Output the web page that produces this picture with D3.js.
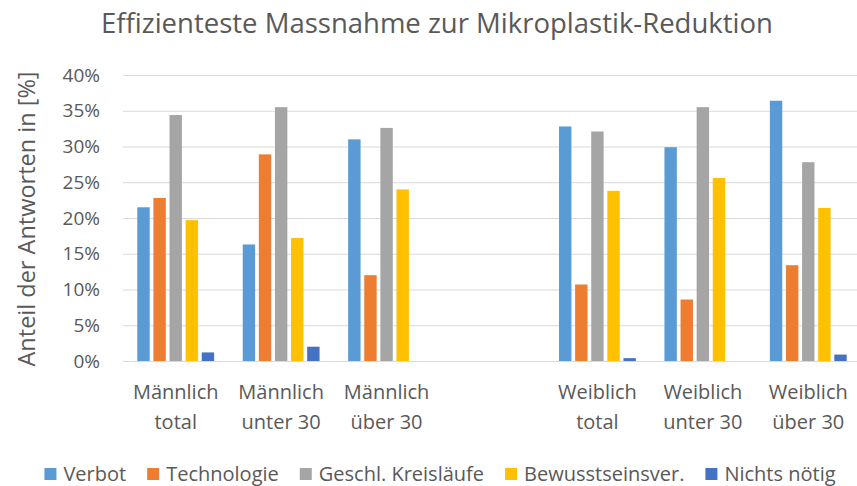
<!DOCTYPE html>
<html>
<head>
<meta charset="utf-8">
<script src="https://cdn.jsdelivr.net/npm/d3@7"></script>
<style>
body { margin: 0; background: #fff; }
text { font-family: "Open Sans", sans-serif; fill: #595959; }
</style>
</head>
<body>
<script>
var width = 857, height = 486;

// categories (one empty slot between the two groups)
var categories = ["Männlich total", "Männlich unter 30", "Männlich über 30", "", "Weiblich total", "Weiblich unter 30", "Weiblich über 30"];
var categoryLines = [["Männlich", "total"], ["Männlich", "unter 30"], ["Männlich", "über 30"], [], ["Weiblich", "total"], ["Weiblich", "unter 30"], ["Weiblich", "über 30"]];

var seriesNames = ["Verbot", "Technologie", "Geschl. Kreisläufe", "Bewusstseinsver.", "Nichts nötig"];
var seriesColors = ["#5B9BD5", "#ED7D31", "#A5A5A5", "#FFC000", "#4472C4"];

var verbot = [0.215, 0.163, 0.310, null, 0.328, 0.299, 0.364];
var technologie = [0.228, 0.289, 0.120, null, 0.107, 0.086, 0.134];
var kreislaeufe = [0.344, 0.355, 0.326, null, 0.321, 0.355, 0.278];
var bewusstsein = [0.197, 0.172, 0.240, null, 0.238, 0.256, 0.214];
var nichts = [0.012, 0.020, 0.000, null, 0.004, 0.000, 0.009];

var yTicks = [0, 0.05, 0.10, 0.15, 0.20, 0.25, 0.30, 0.35, 0.40];

var seriesValues = [verbot, technologie, kreislaeufe, bewusstsein, nichts];

var svg = d3.select("body")
.append("svg")
.attr("width", width)
.attr("height", height)
.attr("id","svg");

var plotLeft = 123, plotRight = 861, plotTop = 75, plotBottom = 361;

var x = d3.scaleBand()
.domain(categories.map(function(d, i){ return i; }))
.range([plotLeft, plotRight])
.paddingInner(0).paddingOuter(0);

var groupPad = 14.3;
var xInner = d3.scaleBand()
.domain(seriesNames)
.range([groupPad, x.bandwidth() - groupPad])
.paddingInner(0.23).paddingOuter(0);

var y = d3.scaleLinear()
.domain([0, 0.4])
.range([plotBottom, plotTop]);

// title
svg.append("text")
.attr("x", 437)
.attr("y", 33)
.attr("text-anchor", "middle")
.style("font-size", "27.5px")
.text("Effizienteste Massnahme zur Mikroplastik-Reduktion");

// grid + y tick labels
var yAxis = svg.append("g")
.attr("transform", "translate(" + plotLeft + ",0)")
.call(d3.axisLeft(y)
    .tickValues(yTicks)
    .tickSize(-(plotRight - plotLeft))
    .tickPadding(23)
    .tickFormat(d3.format(".0%")));
yAxis.select(".domain").remove();
yAxis.selectAll(".tick line").attr("stroke", "#d9d9d9").attr("stroke-width", 1);
yAxis.selectAll(".tick text")
.style("font-size", "19px")
.style("font-family", "'Open Sans', sans-serif")
.attr("fill", "#595959");

// y axis title
svg.append("text")
.attr("transform", "translate(35,219) rotate(-90)")
.attr("text-anchor", "middle")
.style("font-size", "23.5px")
.text("Anteil der Antworten in [%]");

// bars
var groups = svg.selectAll(".group")
.data(categories)
.enter().append("g")
.attr("class", "group")
.attr("transform", function(d, i){ return "translate(" + x(i) + ",0)"; });

groups.selectAll("rect")
.data(function(d, i){
    return seriesNames.map(function(s, j){ return {series: s, color: seriesColors[j], value: seriesValues[j][i]}; });
})
.enter().append("rect")
.filter(function(d){ return d.value != null && d.value > 0; })
.attr("x", function(d){ return xInner(d.series); })
.attr("y", function(d){ return y(d.value); })
.attr("width", xInner.bandwidth())
.attr("height", function(d){ return y(0) - y(d.value); })
.attr("fill", function(d){ return d.color; });

// category labels
var labels = svg.selectAll(".catLabel")
.data(categoryLines)
.enter().append("text")
.attr("class", "catLabel")
.attr("text-anchor", "middle")
.style("font-size", "20px");

labels.each(function(lines, i){
    var t = d3.select(this);
    lines.forEach(function(line, k){
        t.append("tspan")
        .attr("x", x(i) + x.bandwidth() / 2)
        .attr("y", 399 + k * 30)
        .text(line);
    });
});

// legend
var legend = svg.append("g").attr("class", "legend");
var lx = 0, itemGap = 21;
seriesNames.forEach(function(name, j){
    var item = legend.append("g").attr("transform", "translate(" + lx + ",0)");
    item.append("rect")
    .attr("x", 0).attr("y", -7)
    .attr("width", 12).attr("height", 12)
    .attr("fill", seriesColors[j]);
    var t = item.append("text")
    .attr("x", 19).attr("y", 6)
    .style("font-size", "20px")
    .text(name);
    lx += 19 + t.node().getComputedTextLength() + itemGap;
});
var legendWidth = lx - itemGap;
legend.attr("transform", "translate(" + (440 - legendWidth / 2) + ",475)");
</script>
</body>
</html>
